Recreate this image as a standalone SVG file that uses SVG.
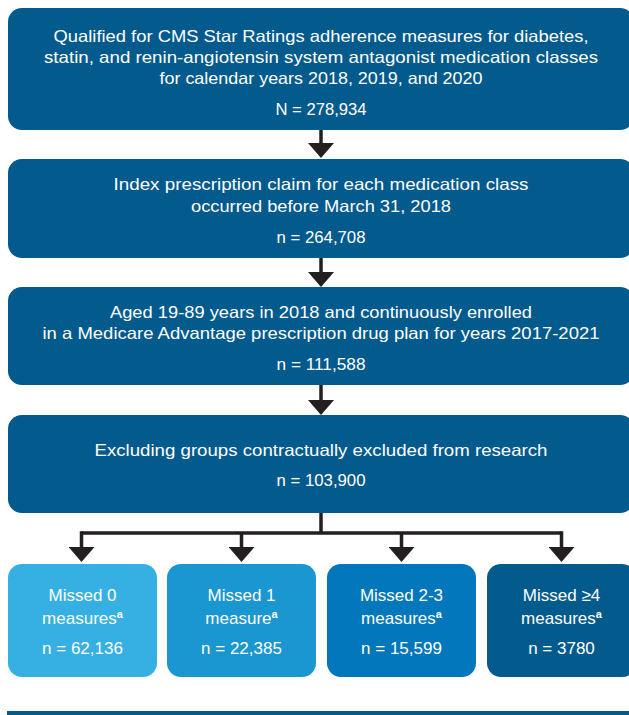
<svg xmlns="http://www.w3.org/2000/svg" width="629" height="715" viewBox="0 0 629 715">
<defs>
<style>
.box{fill:#035a8c}
.t{font-family:"Liberation Sans",Arial,sans-serif;font-size:16.5px;fill:#ffffff;text-anchor:middle}
.b{font-family:"Liberation Sans",Arial,sans-serif;font-size:17px;fill:#ffffff;text-anchor:middle}
.sup{font-size:11px;font-weight:bold}
.c{fill:none;stroke:#231f20;stroke-width:3.5}
</style>
<marker id="ah" markerUnits="userSpaceOnUse" markerWidth="16" markerHeight="26" viewBox="0 -13 15 26" refX="0" refY="0" orient="auto">
<path d="M0,-13 L15,0 L0,13 z" fill="#231f20"/>
</marker>
</defs>
<rect width="629" height="715" fill="#ffffff"/>
<g id="n1">
<rect class="box" x="8" y="8" width="626" height="122" rx="14"/>
<text class="t" x="321" y="42" textLength="535" lengthAdjust="spacingAndGlyphs">Qualified for CMS Star Ratings adherence measures for diabetes,</text>
<text class="t" x="321" y="63" textLength="554" lengthAdjust="spacingAndGlyphs">statin, and renin-angiotensin system antagonist medication classes</text>
<text class="t" x="321" y="84" textLength="323" lengthAdjust="spacingAndGlyphs">for calendar years 2018, 2019, and 2020</text>
<text class="t" x="321" y="115" textLength="91" lengthAdjust="spacingAndGlyphs">N = 278,934</text>
</g>
<g id="n2">
<rect class="box" x="8" y="159" width="626" height="99" rx="14"/>
<text class="t" x="321" y="190" textLength="415" lengthAdjust="spacingAndGlyphs">Index prescription claim for each medication class</text>
<text class="t" x="321" y="212" textLength="260" lengthAdjust="spacingAndGlyphs">occurred before March 31, 2018</text>
<text class="t" x="321" y="243" textLength="89" lengthAdjust="spacingAndGlyphs">n = 264,708</text>
</g>
<g id="n3">
<rect class="box" x="8" y="287" width="626" height="98" rx="14"/>
<text class="t" x="321" y="318" textLength="422" lengthAdjust="spacingAndGlyphs">Aged 19-89 years in 2018 and continuously enrolled</text>
<text class="t" x="321" y="339" textLength="557" lengthAdjust="spacingAndGlyphs">in a Medicare Advantage prescription drug plan for years 2017-2021</text>
<text class="t" x="321" y="370" textLength="89" lengthAdjust="spacingAndGlyphs">n = 111,588</text>
</g>
<g id="n4">
<rect class="box" x="8" y="415" width="626" height="98" rx="14"/>
<text class="t" x="321" y="456" textLength="453" lengthAdjust="spacingAndGlyphs">Excluding groups contractually excluded from research</text>
<text class="t" x="321" y="486" textLength="89" lengthAdjust="spacingAndGlyphs">n = 103,900</text>
</g>
<g id="m0">
<rect x="8" y="564" width="149" height="113" rx="14" fill="#36b0e2"/>
<text class="b" x="82.5" y="601">Missed 0</text>
<text class="b" x="82.5" y="624">measures<tspan class="sup" dy="-6">a</tspan></text>
<text class="b" x="82.5" y="654">n = 62,136</text>
</g>
<g id="m1">
<rect x="167" y="564" width="149" height="113" rx="14" fill="#1a96d1"/>
<text class="b" x="241.5" y="601">Missed 1</text>
<text class="b" x="241.5" y="624">measure<tspan class="sup" dy="-6">a</tspan></text>
<text class="b" x="241.5" y="654">n = 22,385</text>
</g>
<g id="m2">
<rect x="327" y="564" width="149" height="113" rx="14" fill="#0277bb"/>
<text class="b" x="401.5" y="601">Missed 2-3</text>
<text class="b" x="401.5" y="624">measures<tspan class="sup" dy="-6">a</tspan></text>
<text class="b" x="401.5" y="654">n = 15,599</text>
</g>
<g id="m3">
<rect x="487" y="564" width="149" height="113" rx="14" fill="#035a8c"/>
<text class="b" x="561.5" y="601">Missed ≥4</text>
<text class="b" x="561.5" y="624">measures<tspan class="sup" dy="-6">a</tspan></text>
<text class="b" x="561.5" y="654">n = 3780</text>
</g>
<g id="connectors">
<path class="c" d="M321,130 V143" marker-end="url(#ah)"/>
<path class="c" d="M321,258 V272" marker-end="url(#ah)"/>
<path class="c" d="M321,385 V400" marker-end="url(#ah)"/>
<path class="c" d="M321,513 V533"/>
<path class="c" d="M81.5,533 H561.5"/>
<path class="c" d="M81.5,531.25 V547" marker-end="url(#ah)"/>
<path class="c" d="M241.5,533 V547" marker-end="url(#ah)"/>
<path class="c" d="M401.5,533 V547" marker-end="url(#ah)"/>
<path class="c" d="M561.5,531.25 V547" marker-end="url(#ah)"/>
</g>
<rect x="7" y="711" width="622" height="4" fill="#035a8c"/>
</svg>
